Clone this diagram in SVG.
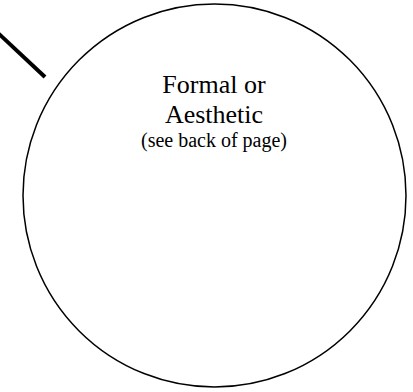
<svg xmlns="http://www.w3.org/2000/svg" width="413" height="392" viewBox="0 0 413 392">
<style>
.t{font-family:"Liberation Serif","Times New Roman",serif;fill:#000;text-anchor:middle}
</style>
<rect width="413" height="392" fill="#fff"/>
<g id="connectors">
<line x1="-2" y1="33" x2="45" y2="77" stroke="#000" stroke-width="4"/>
</g>
<g id="node-formal">
<ellipse cx="214.5" cy="195.5" rx="191.5" ry="191.5" fill="none" stroke="#000" stroke-width="1.5"/>
<text class="t" x="214" y="93" font-size="26">Formal or</text>
<text class="t" x="214" y="122.5" font-size="26">Aesthetic</text>
<text class="t" x="214" y="147" font-size="20">(see back of page)</text>
</g>
</svg>
